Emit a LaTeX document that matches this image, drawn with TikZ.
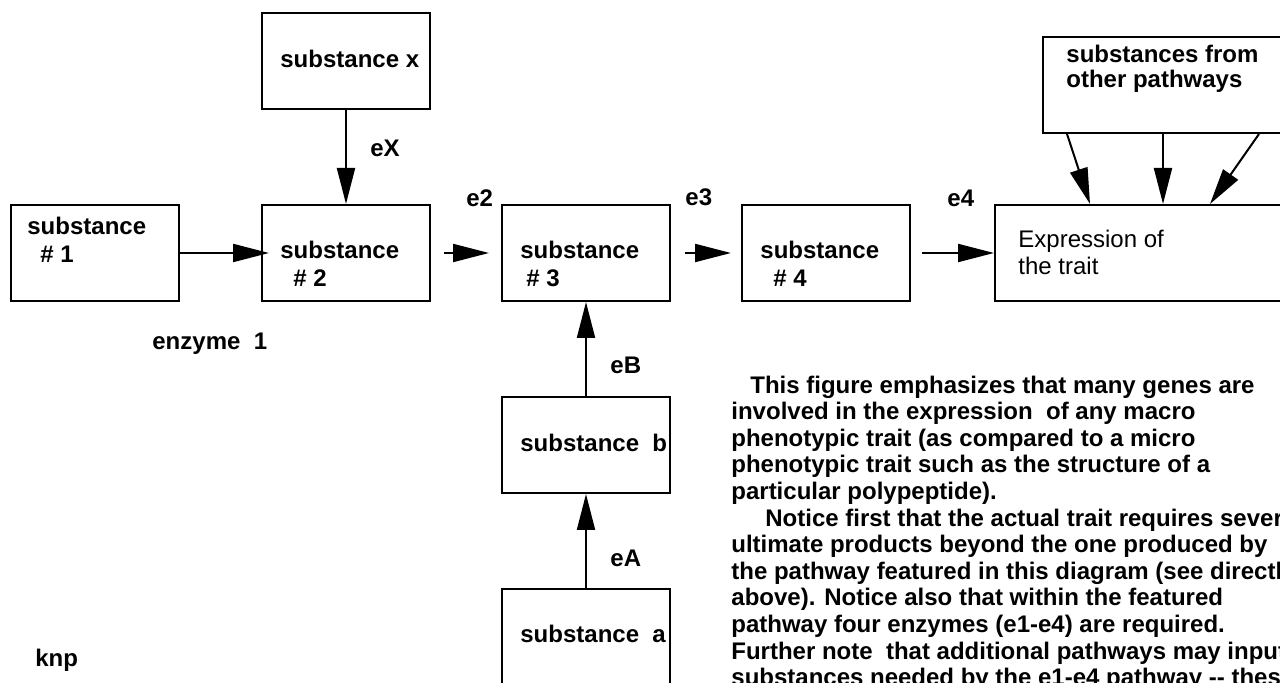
\documentclass[tikz,border=0pt]{standalone}
\usepackage{fontspec}
\setmainfont{Liberation Sans}
\usetikzlibrary{arrows.meta}

\tikzset{
    box/.style={draw, line width=1pt, minimum width=84pt, minimum height=48pt, inner sep=0pt},
    lbl/.style={anchor=base west, inner sep=0pt, align=left, font=\fontsize{12}{14}\selectfont\bfseries},
    arr/.style={-{Triangle[length=18pt, width=9pt]}, line width=1pt},
}

\begin{document}
\begin{tikzpicture}[x=0.5pt, y=-0.5pt]
    \useasboundingbox (0,0) rectangle (1280,683);
    \clip (0,0) rectangle (1280,683);

    % Main pathway (multi-line labels sit on their last baseline)
    \node[box] (s1) at (95,253) {};
    \node[box] (s2) at (346,253) {};
    \node[box] (s3) at (586,253) {};
    \node[box] (s4) at (826,253) {};
    \node[box, minimum width=168pt] (expr) at (1163,253) {};
    \node[lbl] (t1) at (27,263) {substance\\\hspace*{6.5pt}\# 1};
    \node[lbl] (t2) at (280,287) {substance\\\hspace*{6.5pt}\# 2};
    \node[lbl] (t3) at (520,287) {substance\\\hspace*{3pt}\# 3};
    \node[lbl] (t4) at (760,287) {substance\\\hspace*{6.5pt}\# 4};
    \node[lbl, font=\fontsize{12}{13.5}\selectfont] (texpr) at (1018,275) {Expression of\\the trait};

    % Side substances
    \node[box] (sx) at (346,61) {};
    \node[box] (sb) at (586,445) {};
    \node[box] (sa) at (586,637) {};
    \node[box, minimum width=120pt] (other) at (1163,85) {};
    \node[lbl] (tx) at (280,68) {substance x};
    \node[lbl] (tb) at (520,452) {substance\ \ b};
    \node[lbl] (ta) at (520,643) {substance\ \ a};
    \node[lbl, font=\fontsize{12}{12.5}\selectfont\bfseries] (tother) at (1066,88) {substances from\\other pathways};

    % Arrows
    \draw[arr] (s1.east) -- ([xshift=4pt]s2.west);
    \draw[arr, shorten <=6.5pt, shorten >=6pt] (s2.east) -- (s3.west);
    \draw[arr, shorten <=7pt, shorten >=5pt] (s3.east) -- (s4.west);
    \draw[arr, shorten <=5.5pt] (s4.east) -- (expr.west);
    \draw[arr] (sx) -- (s2);
    \draw[arr] (sb) -- (s3);
    \draw[arr] (sa) -- (sb);
    \draw[arr] ([xshift=-48pt]other.south) -- ([xshift=-36.5pt]expr.north);
    \draw[arr] (other.south) -- (expr.north);
    \draw[arr] ([xshift=48pt]other.south) -- ([xshift=23.5pt]expr.north);

    % Enzyme labels
    \node[lbl] (eX) at (370,157) {eX};
    \node[lbl] (e2) at (466,207) {e2};
    \node[lbl] (e3) at (685,206) {e3};
    \node[lbl] (e4) at (947,207) {e4};
    \node[lbl] (eB) at (610,374) {eB};
    \node[lbl] (eA) at (610,567) {eA};
    \node[lbl] (enz1) at (152,350) {enzyme\ \ 1};
    \node[lbl] (knp) at (35,667) {knp};

    % Explanation
    \node[lbl, font=\fontsize{12}{13.3}\selectfont\bfseries] (note) at (731,685.6) {%
        \hspace*{9.5pt}This figure emphasizes that many genes are\\
        involved in the expression\ \ of any macro\\
        phenotypic trait (as compared to a micro\\
        phenotypic trait such as the structure of a\\
        particular polypeptide).\\
        \hspace*{17pt}Notice first that the actual trait requires several\\
        ultimate products beyond the one produced by\\
        the pathway featured in this diagram (see directly\\
        above). Notice also that within the featured\\
        pathway four enzymes (e1-e4) are required.\\
        Further note\ \ that additional pathways may input\\
        substances needed by the e1-e4 pathway -{}- these};
\end{tikzpicture}
\end{document}
